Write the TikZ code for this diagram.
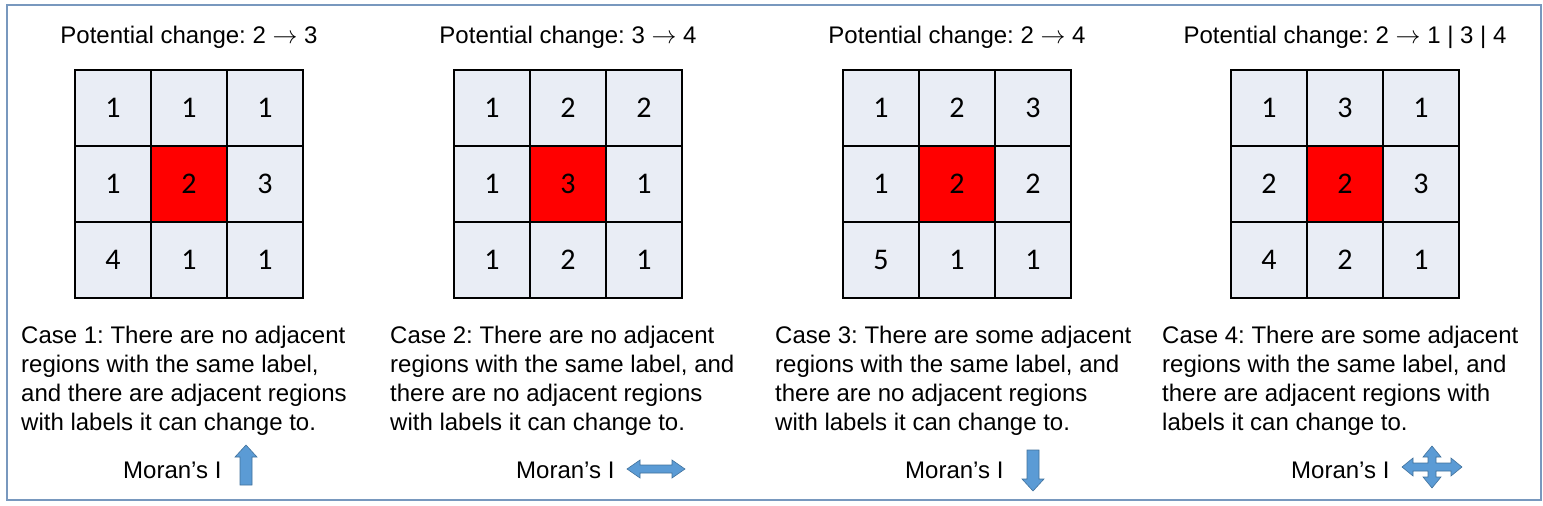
\documentclass[tikz,border=0pt]{standalone}
\usepackage{fontspec}
\setmainfont{Liberation Sans}
\newfontfamily\cellfont{Carlito}
\frenchspacing

\definecolor{cellgray}{RGB}{233,237,245}
\definecolor{framecol}{RGB}{120,152,190}
\definecolor{arrowfill}{RGB}{91,155,213}
\definecolor{arrowline}{RGB}{65,113,156}

\tikzset{
  cell/.style={draw=black, line width=1.6pt, fill=cellgray, minimum size=76pt, inner sep=0pt,
    font=\cellfont\fontsize{30}{30}\selectfont},
  hotcell/.style={cell, fill=red},
  title/.style={anchor=base, inner sep=0pt, font=\fontsize{24}{28}\selectfont},
  casetext/.style={anchor=north west, align=left, inner sep=0pt, font=\fontsize{24}{29}\selectfont},
  moran/.style={anchor=base west, inner sep=0pt, font=\fontsize{24}{28}\selectfont},
  trend/.style={fill=arrowfill, draw=arrowline, line width=0.6pt, line join=miter},
}

\begin{document}
\begin{tikzpicture}[x=1pt,y=-1pt]
\useasboundingbox (0,0) rectangle (1543,506);
\draw [draw=framecol, line width=2pt] (7,5) rectangle (1541,500);

% titles
\node[title] (t1) at (189,43) {Potential change: 2 $\rightarrow$ 3};
\node[title] (t2) at (568,43) {Potential change: 3 $\rightarrow$ 4};
\node[title] (t3) at (957,43) {Potential change: 2 $\rightarrow$ 4};
\node[title] (t4) at (1345,43) {Potential change: 2 $\rightarrow$ 1 | 3 | 4};

% grid 1
\node[cell] (a11) at (113,108) {1};
\node[cell] (a12) at (189,108) {1};
\node[cell] (a13) at (265,108) {1};
\node[cell] (a21) at (113,184) {1};
\node[hotcell] (a22) at (189,184) {2};
\node[cell] (a23) at (265,184) {3};
\node[cell] (a31) at (113,260) {4};
\node[cell] (a32) at (189,260) {1};
\node[cell] (a33) at (265,260) {1};

% grid 2
\node[cell] (b11) at (492,108) {1};
\node[cell] (b12) at (568,108) {2};
\node[cell] (b13) at (644,108) {2};
\node[cell] (b21) at (492,184) {1};
\node[hotcell] (b22) at (568,184) {3};
\node[cell] (b23) at (644,184) {1};
\node[cell] (b31) at (492,260) {1};
\node[cell] (b32) at (568,260) {2};
\node[cell] (b33) at (644,260) {1};

% grid 3
\node[cell] (c11) at (881,108) {1};
\node[cell] (c12) at (957,108) {2};
\node[cell] (c13) at (1033,108) {3};
\node[cell] (c21) at (881,184) {1};
\node[hotcell] (c22) at (957,184) {2};
\node[cell] (c23) at (1033,184) {2};
\node[cell] (c31) at (881,260) {5};
\node[cell] (c32) at (957,260) {1};
\node[cell] (c33) at (1033,260) {1};

% grid 4
\node[cell] (d11) at (1269,108) {1};
\node[cell] (d12) at (1345,108) {3};
\node[cell] (d13) at (1421,108) {1};
\node[cell] (d21) at (1269,184) {2};
\node[hotcell] (d22) at (1345,184) {2};
\node[cell] (d23) at (1421,184) {3};
\node[cell] (d31) at (1269,260) {4};
\node[cell] (d32) at (1345,260) {2};
\node[cell] (d33) at (1421,260) {1};

% case texts
\node[casetext] (k1) at (21,326) {Case 1: There are no adjacent\\regions with the same label,\\and there are adjacent regions\\with labels it can change to.};
\node[casetext] (k2) at (390,326) {Case 2: There are no adjacent\\regions with the same label, and\\there are no adjacent regions\\with labels it can change to.};
\node[casetext] (k3) at (775,326) {Case 3: There are some adjacent\\regions with the same label, and\\there are no adjacent regions\\with labels it can change to.};
\node[casetext] (k4) at (1162,326) {Case 4: There are some adjacent\\regions with the same label, and\\there are adjacent regions with\\labels it can change to.};

% Moran's I
\node[moran] (m1) at (123,478) {Moran’s I};
\node[moran] (m2) at (516,478) {Moran’s I};
\node[moran] (m3) at (905,478) {Moran’s I};
\node[moran] (m4) at (1291,478) {Moran’s I};

% up
\draw[trend] (240,485) -- (240,457) -- (235,457) -- (246,445) -- (257,457) -- (252,457) -- (252,485) -- cycle;
% both ways
\draw[trend] (627,469) -- (640,460) -- (640,465) -- (672,465) -- (672,460) -- (685,469)
  -- (672,478) -- (672,473) -- (640,473) -- (640,478) -- cycle;
% down
\draw[trend] (1027,450) -- (1027,479) -- (1022,479) -- (1033,491) -- (1044,479) -- (1039,479) -- (1039,450) -- cycle;
% all ways
\draw[trend] (1402,467) -- (1413,458) -- (1413,463) -- (1428,463) -- (1428,457) -- (1423,457)
  -- (1432,446) -- (1441,457) -- (1436,457) -- (1436,463) -- (1451,463) -- (1451,458)
  -- (1462,467) -- (1451,476) -- (1451,471) -- (1436,471) -- (1436,477) -- (1441,477)
  -- (1432,488) -- (1423,477) -- (1428,477) -- (1428,471) -- (1413,471) -- (1413,476) -- cycle;
\end{tikzpicture}
\end{document}
